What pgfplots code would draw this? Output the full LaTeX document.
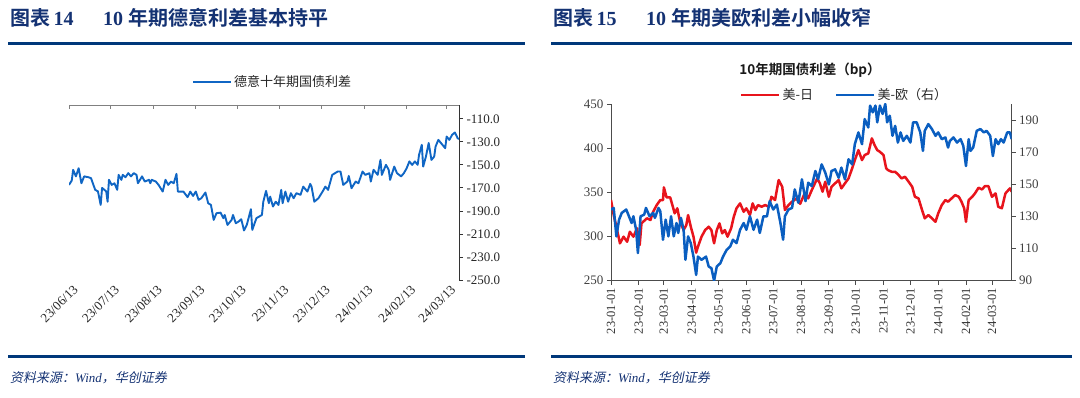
\documentclass[border=0pt]{standalone}
\usepackage{fontspec}
\setmainfont{Liberation Serif}
\newfontfamily\cjk{Noto Sans CJK SC}
\newfontfamily\cjkb{Noto Sans CJK SC Bold}
\newfontfamily\cjkit{Noto Sans CJK SC}[FakeSlant=0.2]
\usepackage{pgfplots}
\pgfplotsset{compat=1.18}
\definecolor{navy}{RGB}{0,56,122}
\definecolor{titlec}{RGB}{20,50,115}
\definecolor{lblue}{RGB}{16,102,196}
\definecolor{rblue}{RGB}{10,94,192}
\definecolor{rred}{RGB}{232,20,28}
\pgfplotsset{/pgf/number format/assume math mode=true}

\pgfplotstableread{
d v
0 -167.4
2 -163.6
3 -154.3
5 -160
7 -152.9
9 -166
11 -160
14 -160.7
16 -161.6
19 -171.7
21 -173
23 -184.8
24 -170
27 -173
28 -182
29 -163
31 -167.4
33 -166
35 -171.7
36 -158.7
38 -163
39 -158.7
41 -160.7
43 -157.2
45 -160
47 -157.2
49 -158.7
50 -166
53 -160
55 -164.5
58 -163
59 -166
60 -163
63 -164.5
65 -167.4
68 -173.2
70 -163
72 -167.4
74 -164.5
76 -166
78 -157.8
79 -173.2
83 -173.2
86 -178
88 -173.2
90 -177
92 -173.2
94 -180.4
96 -179
99 -174
101 -183.3
103 -184.8
105 -197.8
107 -192
110 -191.5
112 -196.3
113 -193.5
115 -202.2
118 -197.8
119 -193.5
121 -200.7
123 -199.3
125 -197.2
127 -207
129 -202.2
132 -188.5
133 -206.5
136 -196.3
140 -193.5
141 -182
143 -172.6
145 -183.3
146 -177.6
148 -186.2
150 -182
152 -184.8
154 -171.7
155 -183.3
157 -173.2
159 -182
161 -174.6
163 -179
165 -174.6
168 -176
170 -168.9
173 -173.2
175 -166.5
176 -168.9
178 -182
181 -179
184 -173.2
186 -168.9
188 -171.7
191 -158.7
195 -155.8
197 -155.8
199 -167.4
202 -164.5
203 -159.6
205 -170.3
208 -164.5
210 -166
213 -155.8
215 -158.7
218 -157.2
219 -164.5
221 -154.3
224 -158.7
226 -145.7
227 -158.7
230 -150
232 -154.3
233 -163
236 -151.5
238 -157.2
241 -160
243 -157.2
245 -153
247 -147
249 -150
251 -147
253 -150
254 -141.3
256 -132.6
257 -151.5
259 -142.8
261 -131
263 -145.7
265 -142.8
266 -134.1
268 -128.3
271 -132.6
273 -135.5
274 -125.4
276 -128.3
278 -123.9
280 -121.9
282 -126.8
283 -127.6
}\deit

\pgfplotstableread{
d v
0 341.3
3 324.3
6 311.1
10 292.3
14 299.8
18 294.1
21 305.4
25 299.8
29 309.3
32 290.4
34 314.9
40 320.6
44 318.7
47 328
51 335.6
55 341.3
58 341.3
59 355.6
62 344.3
66 344.3
69 333.7
71 326.2
74 331.9
77 316.7
81 307.3
84 313
86 324.3
89 311.1
92 299.8
95 281.7
97 288.5
101 299.8
105 307.3
109 311.1
112 307.3
115 292.3
118 307.3
121 314.9
124 303.6
127 307.3
130 299.8
134 309.3
137 322.4
140 331.9
144 337.5
148 328
151 331.9
155 324.3
158 337.5
161 330
164 335.6
168 333.7
172 335.6
176 333.7
179 345
183 341.3
187 363.9
191 356.3
194 330
198 335.6
202 339.4
207 343.2
211 337
216 348.8
220 343.2
224 352.6
230 365.8
233 360.2
236 350.7
239 362
243 345
246 356.3
250 360.2
254 363.9
257 354.5
261 360.2
265 365.8
269 377.1
272 386.5
276 397.8
280 386.5
283 392.2
287 394.1
291 411.1
294 403.5
297 397.8
300 395.9
304 392.2
307 377.1
309 375.2
313 373.3
317 373.3
321 369.5
324 365.8
328 367.6
332 362
336 356.3
339 345
343 343.2
347 330
350 320.6
354 324.3
358 320.6
362 316.7
365 326.2
369 335.6
373 341.3
376 339.4
380 343.2
384 346.9
388 345
391 339.4
394 331.9
396 316.7
399 341.3
403 345
406 348.8
410 355.2
414 353.3
417 357
421 357
425 345
429 348.8
432 333.7
436 331.9
440 348.8
445 354.5
447 350.7
}\usjp

\pgfplotstableread{
d v
0 134.3
3 135.3
6 117.6
9 128
12 132.2
17 134.3
20 130.1
23 125.9
25 130.1
28 121.7
30 107.2
33 130.1
37 131.1
39 135.3
43 130.1
47 132.2
49 129.1
53 135.3
55 133.2
58 115.5
61 128
64 117.6
67 130.1
70 117.6
73 125.9
75 119.7
78 129.1
81 121.7
83 103
86 117.6
89 113.4
92 105
95 93.6
97 105
101 103
106 105
109 98.8
112 97.8
115 90
118 98.8
122 100.9
125 105
129 109.2
133 111.3
136 115.5
140 113.4
144 121.7
148 125.9
151 121.7
155 130.1
159 121.7
163 128
166 119.7
170 130.1
174 130.1
177 139.5
181 134.3
185 137.4
189 125.9
192 115.5
194 130.1
198 134.3
202 135.3
205 146.8
209 138.5
213 153.1
217 139.5
220 151
224 148.9
228 158.3
231 153.1
235 162.4
239 157.3
243 149.9
246 158.3
250 159.3
254 154.1
257 160.4
261 153.1
265 165.6
269 162.4
272 175
276 182.3
280 175
283 190.6
287 185.4
289 199
292 194.8
295 199
297 188.6
300 199
303 193.8
306 200
308 188.6
311 192.7
314 180.2
317 186.4
320 176
323 182.3
326 177
330 180.2
334 176
337 188.6
341 188.6
345 182.3
348 170.8
350 183.3
354 187.5
358 184.4
362 180.2
365 182.3
369 178.1
373 179.2
376 172.9
378 177
382 179.2
386 176
390 178.1
393 173.9
396 161.4
399 178.1
401 170.8
404 172.9
408 183.3
412 184.4
416 182.3
419 183.3
423 180.2
426 167.6
429 178.1
432 175
435 178.1
438 176
442 182.3
445 182.3
447 178.1
}\useu

\begin{document}
\begin{tikzpicture}[x=1pt,y=1pt]
\useasboundingbox (0,0) rectangle (1080,398);
% ---- titles
\node[anchor=west, inner sep=0, text=titlec, font=\fontsize{20}{20}\selectfont] at (10,380) {{\cjkb 图表}\,\textbf{14}};
\node[anchor=west, inner sep=0, text=titlec, font=\fontsize{20}{20}\selectfont] at (103,380) {\textbf{10} {\cjkb 年期德意利差基本持平}};
\node[anchor=west, inner sep=0, text=titlec, font=\fontsize{20}{20}\selectfont] at (553,380) {{\cjkb 图表}\,\textbf{15}};
\node[anchor=west, inner sep=0, text=titlec, font=\fontsize{20}{20}\selectfont] at (646,380) {\textbf{10} {\cjkb 年期美欧利差小幅收窄}};
\fill[navy] (8,352.5) rectangle (525,355.5);
\fill[navy] (551,352.5) rectangle (1072,355.5);
\fill[navy] (8,39.5) rectangle (525,42.5);
\fill[navy] (551,39.5) rectangle (1072,42.5);
\node[anchor=west, inner sep=0, text=titlec, font=\fontsize{13}{13}\selectfont] at (10,20) {{\cjkit 资料来源：}\textit{Wind}{\cjkit ，华创证券}};
\node[anchor=west, inner sep=0, text=titlec, font=\fontsize{13}{13}\selectfont] at (553,20) {{\cjkit 资料来源：}\textit{Wind}{\cjkit ，华创证券}};

% ---- left chart
\begin{axis}[
  at={(69pt,118pt)}, anchor=south west, scale only axis,
  width=390pt, height=175pt,
  xmin=0, xmax=283, ymin=-250, ymax=-98,
  axis x line=bottom, axis y line=right, axis line style={-},
  x axis line style={draw=none}, xtick style={draw=none},
  y axis line style={black!80, line width=0.8pt},
  ytick={-250,-230,...,-110}, ytick align=outside, major tick length=4pt,
  ytick style={black!80, line width=0.8pt},
  yticklabel style={/pgf/number format/fixed, /pgf/number format/fixed zerofill, /pgf/number format/precision=1, font=\fontsize{13}{13}\selectfont, text=black!85},
  xtick={0,30,61,92,122,153,183,214,245,274},
  xticklabels={23/06/13,23/07/13,23/08/13,23/09/13,23/10/13,23/11/13,23/12/13,24/01/13,24/02/13,24/03/13},
  xticklabel style={rotate=45, anchor=north east, font=\fontsize{13}{13}\selectfont, text=black!85, inner sep=1pt, xshift=2pt, yshift=-3pt},
  legend image code/.code={\draw[#1] (0pt,0pt) -- (38pt,0pt);},
  legend style={draw=none, fill=none, at={(0.522,1.133)}, anchor=center, font=\cjk\fontsize{13}{13}\selectfont, text=black!85, inner sep=1pt},
]
\addplot[lblue, line width=1.9pt, line join=round] table[x=d, y=v] {\deit};
\addlegendentry{德意十年期国债利差}
\end{axis}
\begin{axis}[
  at={(69pt,118pt)}, anchor=south west, scale only axis,
  width=390pt, height=175pt,
  xmin=0, xmax=283, ymin=-250, ymax=-98,
  axis x line=top, axis y line=none, axis line style={-},
  x axis line style={black!50, line width=0.8pt},
  xtick={0,30,61,92,122,153,183,214,245,274}, xticklabels={},
  xtick align=inside, major tick length=4pt, xtick style={black!50, line width=0.8pt},
  ytick=\empty,
]
\end{axis}

% ---- right chart
\node[font=\cjkb\fontsize{13.5}{13.5}\selectfont, text=black!90] at (810,328) {10年期国债利差（bp）};
\begin{axis}[
  at={(611pt,117.3pt)}, anchor=south west, scale only axis,
  width=400.7pt, height=176.7pt,
  xmin=0, xmax=447, ymin=250, ymax=450,
  axis x line=bottom, axis y line=left, axis line style={-, black!70, line width=0.8pt},
  tick align=outside, major tick length=4pt, tick style={black!70, line width=0.8pt},
  xtick={0,31,59,90,120,151,181,212,243,273,304,334,365,396,425},
  xticklabels={23-01-01,23-02-01,23-03-01,23-04-01,23-05-01,23-06-01,23-07-01,23-08-01,23-09-01,23-10-01,23-11-01,23-12-01,24-01-01,24-02-01,24-03-01},
  xticklabel style={rotate=90, anchor=east, font=\fontsize{12.5}{12.5}\selectfont, text=black!80},
  ytick={250,300,...,450},
  yticklabel style={font=\fontsize{13}{13}\selectfont, text=black!75},
  legend columns=2,
  legend image code/.code={\draw[#1] (0pt,0pt) -- (38pt,0pt);},
  legend style={draw=none, fill=none, at={(0.583,1.051)}, anchor=center, font=\cjk\fontsize{13}{13}\selectfont, text=black!85, inner sep=1pt, /tikz/every even column/.append style={column sep=20pt}},
]
\addplot[rred, line width=2.5pt, line join=round] table[x=d, y=v] {\usjp};
\addlegendentry{美-日}
\addlegendimage{rblue, line width=2.5pt}
\addlegendentry{美-欧（右）}
\end{axis}
\begin{axis}[
  at={(611pt,117.3pt)}, anchor=south west, scale only axis,
  width=400.7pt, height=176.7pt,
  xmin=0, xmax=447, ymin=90, ymax=200,
  axis x line=none, axis y line=right, axis line style={-, black!70, line width=0.8pt},
  tick align=outside, major tick length=4pt, tick style={black!70, line width=0.8pt},
  xtick=\empty,
  ytick={90,110,...,190},
  yticklabel style={font=\fontsize{13}{13}\selectfont, text=black!75},
]
\addplot[rblue, line width=2.5pt, line join=round] table[x=d, y=v] {\useu};
\end{axis}
\end{tikzpicture}
\end{document}
